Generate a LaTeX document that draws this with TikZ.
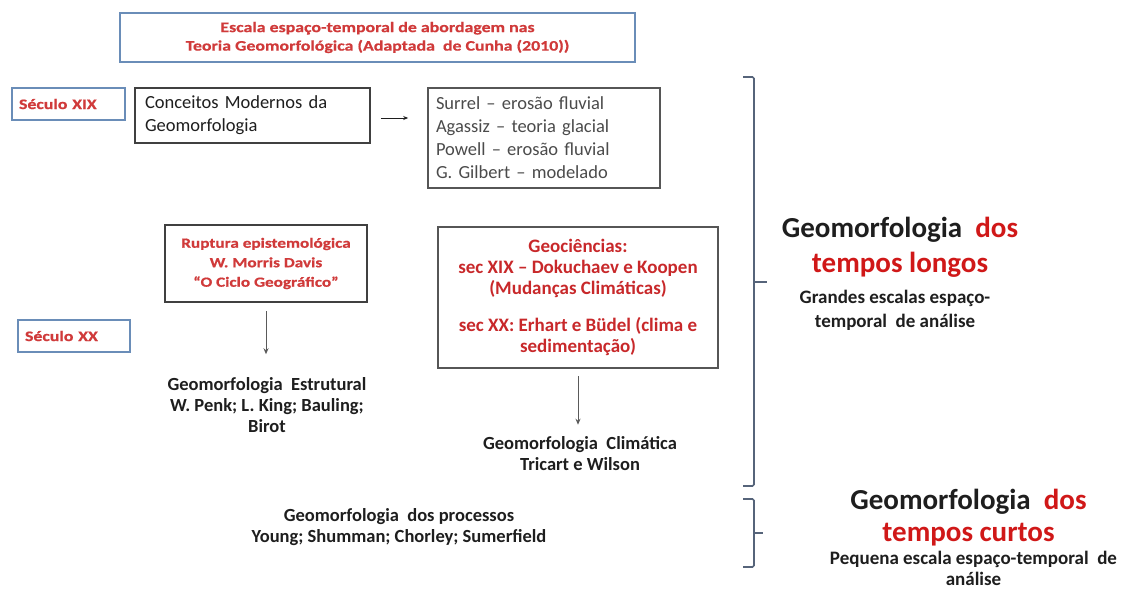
\documentclass[tikz,border=0pt]{standalone}
\usepackage{fontspec}
\setmainfont{Carlito}
\newfontfamily\widebold[FakeStretch=1.23,FakeBold=0.6,Ligatures=TeX]{Carlito}
\usetikzlibrary{arrows.meta}
\definecolor{titlered}{HTML}{D03A3A}
\definecolor{textred}{HTML}{C8282A}
\definecolor{headred}{HTML}{D01818}
\definecolor{ink}{HTML}{1E1E1E}
\definecolor{boxblue}{HTML}{6A8DB8}
\definecolor{bracketgray}{HTML}{56647A}
\definecolor{arrowgray}{HTML}{5A5A5A}
\tikzset{
  bluebox/.style={draw=boxblue, line width=1.2pt, minimum width=#1, inner sep=0pt, text=titlered, align=center},
  periodbox/.style={draw=boxblue, line width=1.2pt, minimum width=#1, text width=#1-14pt, inner xsep=7pt, inner ysep=0pt,
    text=titlered, align=left, font=\widebold\bfseries\fontsize{14.5}{17}\selectfont},
  darkbox/.style={draw=ink!85, line width=1.6pt, inner sep=0pt},
  plain/.style={text=ink, font=\fontsize{18.5}{23}\selectfont},
  boldtext/.style={text=ink, align=center, inner sep=0pt, font=\bfseries\fontsize{18.5}{21}\selectfont},
  downarrow/.style={draw=arrowgray, line width=1pt, -{Stealth[length=6pt,width=5pt]}},
  bracket/.style={draw=bracketgray, line width=1.6pt, rounded corners=1.5pt}
}
\begin{document}
\begin{tikzpicture}[x=1pt,y=-1pt]
\useasboundingbox[fill=white] (0,0) rectangle (1131,592);

% title
\node[bluebox=515pt, minimum height=49pt, font=\widebold\bfseries\fontsize{14.5}{18.5}\selectfont]
  (title) at (377.5,37.5) {Escala espaço-temporal de abordagem nas\\Teoria Geomorfológica (Adaptada\ \ de Cunha (2010))};

% period labels
\node[periodbox=113pt, minimum height=32pt] (sxix) at (68.5,104) {Século XIX};
\node[periodbox=112pt, minimum height=32pt] (sxx) at (74,336) {Século XX};

% nineteenth century
\node[darkbox, plain, minimum width=235pt, minimum height=55pt, text width=215pt, align=left]
  (conc) at (252.5,115.5) {Conceitos Modernos da\\Geomorfologia};
\node[darkbox, draw=ink!75, plain, text=ink!80, minimum width=232pt, minimum height=100pt, text width=216pt, align=left]
  (surrel) at (544,138) {Surrel -- erosão fluvial\\Agassiz -- teoria glacial\\Powell -- erosão fluvial\\G. Gilbert -- modelado};
\draw[line width=1pt, draw=ink, -{Stealth[length=5pt,width=4pt]}, shorten <=10pt, shorten >=19pt]
  ([yshift=-2.5pt]conc.east) -- ([yshift=-2.5pt]conc.east -| surrel.west);

% twentieth century
\node[darkbox, line width=2pt, minimum width=202pt, minimum height=77pt, align=center, text=titlered,
  font=\widebold\bfseries\fontsize{14}{19.5}\selectfont]
  (rup) at (266,263.5) {Ruptura epistemológica\\W. Morris Davis\\“O Ciclo Geográfico”};
\node[darkbox, line width=2pt, draw=ink!75, minimum width=280pt, minimum height=141pt, align=center, text=textred,
  font=\bfseries\fontsize{19}{21}\selectfont]
  (geo) at (578,297.5) {Geociências:\\sec XIX -- Dokuchaev e Koopen\\(Mudanças Climáticas)\\[16pt]sec XX: Erhart e Büdel (clima e\\sedimentação)};

\node[boldtext] (estr) at (267,405) {Geomorfologia\ \ Estrutural\\W. Penk; L. King; Bauling;\\Birot};
\node[boldtext] (clim) at (580,454) {Geomorfologia\ \ Climática\\Tricart e Wilson};
\node[boldtext] (proc) at (399,527) {Geomorfologia\ \ dos processos\\Young; Shumman; Chorley; Sumerfield};

\draw[downarrow, shorten <=8pt, shorten >=23pt] (rup.south) -- (rup.south |- estr.north);
\draw[downarrow, shorten <=7pt, shorten >=12pt] (geo.south) -- (geo.south |- clim.north);

% time-scale brackets
\draw[bracket] (743,77) -- (754,77) -- (754,486) -- (743,486);
\draw[bracket] (754,282) -- (767,282);
\draw[bracket] (743,499) -- (754,499) -- (754,567) -- (743,567);
\draw[bracket] (754,533) -- (763,533);

% long-term geomorphology
\node[align=center, inner sep=0pt, text=ink, font=\bfseries\fontsize{29}{35}\selectfont]
  (longh) at (900,247.5) {Geomorfologia\ \ \textcolor{headred}{dos}\\\textcolor{headred}{tempos longos}};
\node[boldtext, font=\bfseries\fontsize{19}{24}\selectfont]
  (longs) at (895,310) {Grandes escalas espaço-\\temporal\ \ de análise};

% short-term geomorphology
\node[align=center, inner sep=0pt, text=ink, font=\bfseries\fontsize{29}{32}\selectfont]
  (shorth) at (968.5,517.5) {Geomorfologia\ \ \textcolor{headred}{dos}\\\textcolor{headred}{tempos curtos}};
\node[boldtext, font=\bfseries\fontsize{19}{21}\selectfont]
  (shorts) at (973.5,568) {Pequena escala espaço-temporal\ \ de\\análise};
\end{tikzpicture}
\end{document}
